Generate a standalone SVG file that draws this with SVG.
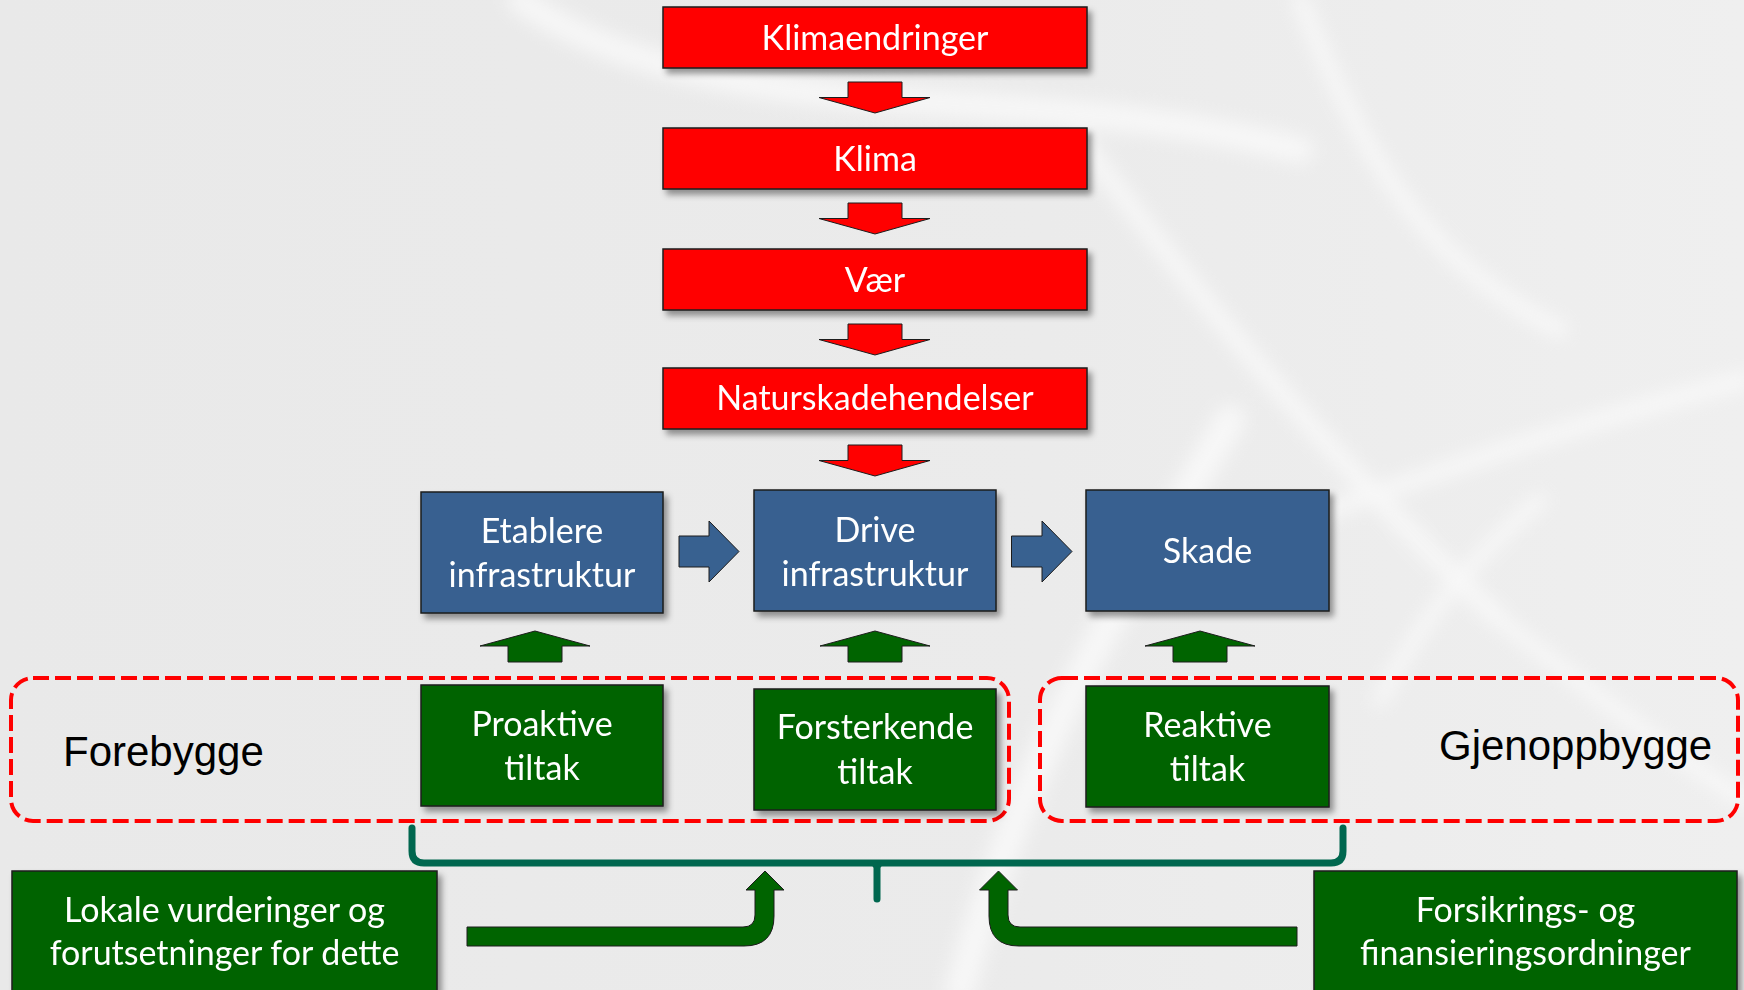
<svg xmlns="http://www.w3.org/2000/svg" width="1744" height="990" viewBox="0 0 1744 990">
<defs>
<style>
.box{stroke:#1c1c1c;stroke-width:1.5}
.red{fill:#ff0000}
.blue{fill:#386190}
.green{fill:#006400}
.arr{stroke:#1c1c1c;stroke-width:1}
.t{font-family:Lato,"Open Sans",sans-serif;font-size:34px;fill:#ffffff;text-anchor:middle}
.lbl{font-family:"Liberation Sans",Arial,sans-serif;font-size:42px;fill:#000000}
.dash{fill:none;stroke:#ff0000;stroke-width:4;stroke-dasharray:16 6}
.brace{fill:none;stroke:#00674f;stroke-width:7;stroke-linecap:round;stroke-linejoin:round}
</style>
<filter id="sh" x="-10%" y="-10%" width="130%" height="140%">
<feDropShadow dx="4" dy="5" stdDeviation="3" flood-color="#000" flood-opacity="0.4"/>
</filter>
<filter id="blur" x="-20%" y="-20%" width="140%" height="140%">
<feGaussianBlur stdDeviation="9"/>
</filter>
<linearGradient id="bg" x1="0" y1="0" x2="1" y2="0">
<stop offset="0" stop-color="#e9e9e9"/>
<stop offset="0.6" stop-color="#ebebeb"/>
<stop offset="1" stop-color="#efefef"/>
</linearGradient>
</defs>

<rect x="0" y="0" width="1744" height="990" fill="url(#bg)"/>
<g id="texture" fill="none" stroke="#ffffff" stroke-linecap="round" filter="url(#blur)" opacity="0.6">
<path d="M520,0 C590,50 700,85 870,98 C1000,108 1150,112 1300,150" stroke-width="26"/>
<path d="M1230,420 C1150,560 1040,700 960,990" stroke-width="30"/>
<path d="M1080,140 C1200,300 1320,450 1500,620" stroke-width="18"/>
<path d="M1200,560 C1350,500 1550,430 1744,380" stroke-width="16"/>
<path d="M1300,0 C1360,150 1420,260 1560,330" stroke-width="16"/>
<path d="M1500,620 C1600,700 1680,760 1744,800" stroke-width="14"/>
<path d="M1380,700 C1420,620 1470,560 1540,500" stroke-width="14"/>
</g>

<g id="regions">
<rect id="forebygge-region" class="dash" x="11" y="678" width="998" height="143" rx="22"/>
<rect id="gjenoppbygge-region" class="dash" x="1040" y="678" width="698" height="143" rx="22"/>
<text class="lbl" x="63" y="766">Forebygge</text>
<text class="lbl" x="1439" y="760">Gjenoppbygge</text>
</g>

<g id="connectors">
<g class="red arr">
<path d="M848,82 H902 V97.5 H930 L875,113 L819,97.5 H848 Z"/>
<path d="M848,203 H902 V218.5 H930 L875,234 L819,218.5 H848 Z"/>
<path d="M848,324 H902 V339.5 H930 L875,355 L819,339.5 H848 Z"/>
<path d="M848,445 H902 V460.5 H930 L875,476 L819,460.5 H848 Z"/>
</g>
<g class="blue arr">
<path d="M679,536 H709 V521 L739,551.5 L709,582 V567 H679 Z"/>
<path d="M1011.5,536 H1042 V521 L1072,551.5 L1042,582 V567 H1011.5 Z"/>
</g>
<g class="green arr">
<path d="M508,662 V646 H480 L535,631 L590,646 H562 V662 Z"/>
<path d="M848,662 V646 H820 L875,631 L930,646 H902 V662 Z"/>
<path d="M1173,662 V646 H1145 L1200,631 L1255,646 H1227 V662 Z"/>
<path d="M467,927 H743 Q755,927 755,915 V890 H746 L765,871 L784,890 H774 V916 Q774,946 744,946 H467 Z"/>
<path d="M1297,927 H1020 Q1008,927 1008,915 V890 H1017.5 L998.5,871 L979.5,890 H989 V916 Q989,946 1019,946 H1297 Z"/>
</g>
<g id="brace">
<path class="brace" d="M412,828 V851 Q412,863 424,863 H1331 Q1343,863 1343,851 V828"/>
<path class="brace" d="M877,866 V899"/>
<path fill="#00674f" d="M864,863 Q876,864 876,876 L878,876 Q878,864 890,863 Z"/>
</g>
</g>

<g id="n-klimaendringer" filter="url(#sh)">
<rect class="box red" x="663" y="7" width="424" height="61"/>
<text class="t" x="875" y="50">Klimaendringer</text>
</g>
<g id="n-klima" filter="url(#sh)">
<rect class="box red" x="663" y="128" width="424" height="61"/>
<text class="t" x="875" y="171">Klima</text>
</g>
<g id="n-vaer" filter="url(#sh)">
<rect class="box red" x="663" y="249" width="424" height="61"/>
<text class="t" x="875" y="292">Vær</text>
</g>
<g id="n-naturskade" filter="url(#sh)">
<rect class="box red" x="663" y="368" width="424" height="61"/>
<text class="t" x="875" y="410">Naturskadehendelser</text>
</g>

<g id="n-etablere" filter="url(#sh)">
<rect class="box blue" x="421" y="492" width="242" height="121"/>
<text class="t" x="542" y="543">Etablere</text>
<text class="t" x="542" y="587">infrastruktur</text>
</g>
<g id="n-drive" filter="url(#sh)">
<rect class="box blue" x="754" y="490" width="242" height="121"/>
<text class="t" x="875" y="542">Drive</text>
<text class="t" x="875" y="586">infrastruktur</text>
</g>
<g id="n-skade" filter="url(#sh)">
<rect class="box blue" x="1086" y="490" width="243" height="121"/>
<text class="t" x="1207.5" y="563">Skade</text>
</g>

<g id="n-proaktive" filter="url(#sh)">
<rect class="box green" x="421" y="685" width="242" height="121"/>
<text class="t" x="542" y="736">Proaktive</text>
<text class="t" x="542" y="780">tiltak</text>
</g>
<g id="n-forsterkende" filter="url(#sh)">
<rect class="box green" x="754" y="689" width="242" height="121"/>
<text class="t" x="875" y="739">Forsterkende</text>
<text class="t" x="875" y="784">tiltak</text>
</g>
<g id="n-reaktive" filter="url(#sh)">
<rect class="box green" x="1086" y="686" width="243" height="121"/>
<text class="t" x="1207.5" y="737">Reaktive</text>
<text class="t" x="1207.5" y="781">tiltak</text>
</g>

<g id="n-lokale" filter="url(#sh)">
<rect class="box green" x="12" y="871" width="425" height="130"/>
<text class="t" x="224.5" y="922">Lokale vurderinger og</text>
<text class="t" x="224.5" y="965">forutsetninger for dette</text>
</g>
<g id="n-forsikrings" filter="url(#sh)">
<rect class="box green" x="1314" y="871" width="423" height="130"/>
<text class="t" x="1525.5" y="922">Forsikrings- og</text>
<text class="t" x="1525.5" y="965">finansieringsordninger</text>
</g>
</svg>
